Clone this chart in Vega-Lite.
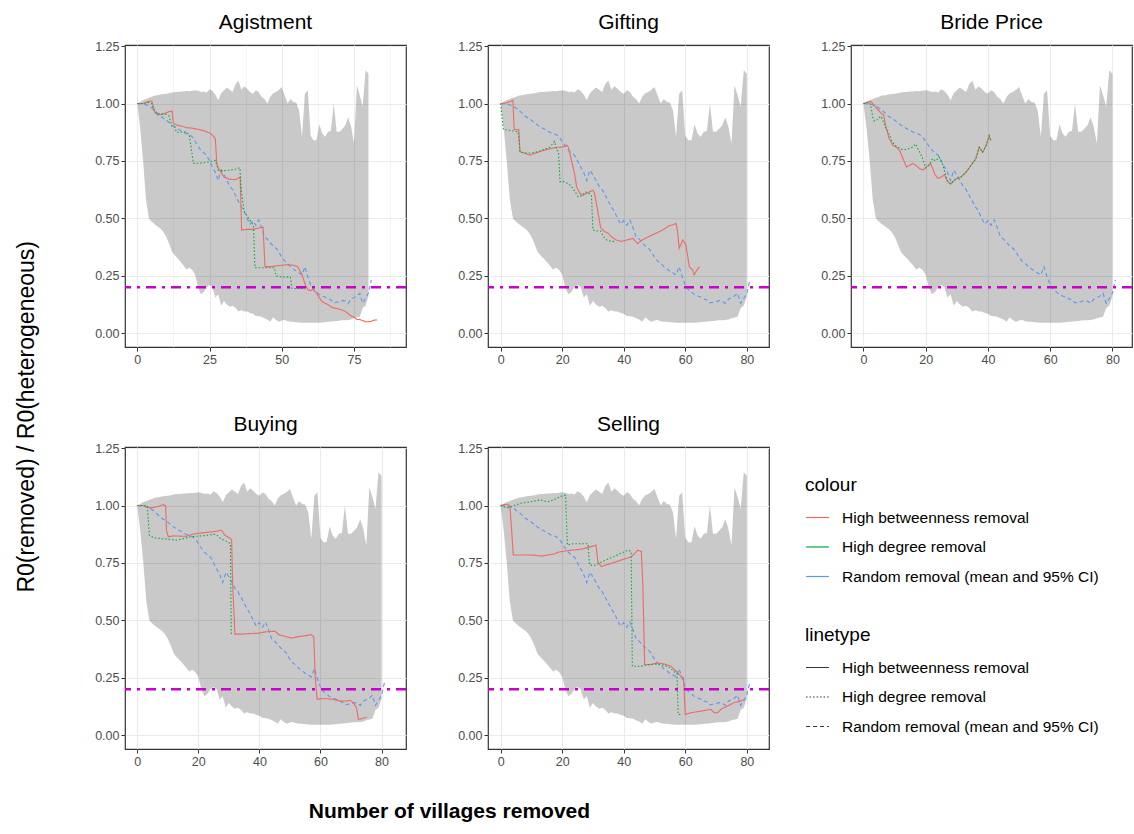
{
"$schema": "https://vega.github.io/schema/vega-lite/v6.json",
"background": "white",
"padding": {"left": 16, "top": 11, "right": 3, "bottom": 5},
"config": {
  "font": "Liberation Sans",
  "view": {"stroke": "#333333", "strokeWidth": 1.2},
  "axis": {"domain": false, "tickColor": "#333333", "tickSize": 4, "labelColor": "#4D4D4D", "labelFontSize": 12.5, "labelPadding": 2, "gridColor": "#EBEBEB", "title": null},
  "title": {"fontSize": 21, "fontWeight": "normal", "color": "black", "anchor": "middle", "frame": "group", "offset": 7},
  "legend": {"titleFontSize": 19, "titleFontWeight": "normal", "titleColor": "black", "labelFontSize": 15.5, "labelColor": "black", "labelLimit": 0, "symbolSize": 520, "symbolStrokeWidth": 1.2, "rowPadding": 8.5, "titlePadding": 10, "labelOffset": 12}
},
"title": {"text": "R0(removed) / R0(heterogeneous)", "orient": "left", "anchor": "middle", "frame": "bounds", "fontSize": 23, "offset": 55},
"datasets": {
  "ribbon": [
    {"x":0,"lower":1.0,"upper":1.0},{"x":1,"lower":0.89,"upper":1.008},{"x":2,"lower":0.75,"upper":1.015},{"x":3,"lower":0.58,"upper":1.02},{"x":4,"lower":0.5,"upper":1.025},{"x":5,"lower":0.485,"upper":1.03},{"x":6,"lower":0.475,"upper":1.035},{"x":7,"lower":0.465,"upper":1.036},{"x":8,"lower":0.455,"upper":1.04},{"x":9,"lower":0.442,"upper":1.042},
    {"x":10,"lower":0.42,"upper":1.043},{"x":11,"lower":0.39,"upper":1.045},{"x":12,"lower":0.355,"upper":1.048},{"x":13,"lower":0.338,"upper":1.05},{"x":14,"lower":0.325,"upper":1.05},{"x":15,"lower":0.31,"upper":1.052},{"x":16,"lower":0.295,"upper":1.053},{"x":17,"lower":0.278,"upper":1.055},{"x":18,"lower":0.285,"upper":1.054},{"x":19,"lower":0.275,"upper":1.056},
    {"x":20,"lower":0.255,"upper":1.058},{"x":21,"lower":0.2,"upper":1.056},{"x":22,"lower":0.17,"upper":1.05},{"x":23,"lower":0.18,"upper":1.052},{"x":24,"lower":0.2,"upper":1.048},{"x":25,"lower":0.21,"upper":1.062},{"x":26,"lower":0.2,"upper":1.055},{"x":27,"lower":0.155,"upper":1.04},{"x":28,"lower":0.17,"upper":1.014},{"x":29,"lower":0.12,"upper":1.045},
    {"x":30,"lower":0.14,"upper":1.058},{"x":31,"lower":0.125,"upper":1.07},{"x":32,"lower":0.115,"upper":1.06},{"x":33,"lower":0.12,"upper":1.05},{"x":34,"lower":0.11,"upper":1.085},{"x":35,"lower":0.095,"upper":1.1},{"x":36,"lower":0.1,"upper":1.06},{"x":37,"lower":0.095,"upper":1.075},{"x":38,"lower":0.095,"upper":1.065},{"x":39,"lower":0.088,"upper":1.05},
    {"x":40,"lower":0.085,"upper":1.043},{"x":41,"lower":0.075,"upper":1.058},{"x":42,"lower":0.074,"upper":1.05},{"x":43,"lower":0.072,"upper":1.03},{"x":44,"lower":0.065,"upper":1.02},{"x":45,"lower":0.06,"upper":1.0},{"x":46,"lower":0.05,"upper":1.03},{"x":47,"lower":0.07,"upper":1.045},{"x":48,"lower":0.058,"upper":1.05},{"x":49,"lower":0.05,"upper":1.06},
    {"x":50,"lower":0.055,"upper":1.072},{"x":51,"lower":0.058,"upper":1.036},{"x":52,"lower":0.052,"upper":1.0},{"x":53,"lower":0.05,"upper":1.02},{"x":54,"lower":0.05,"upper":1.007},{"x":55,"lower":0.048,"upper":1.005},{"x":56,"lower":0.047,"upper":0.97},{"x":57,"lower":0.046,"upper":0.855},{"x":58,"lower":0.046,"upper":1.043},{"x":59,"lower":0.046,"upper":1.058},
    {"x":60,"lower":0.046,"upper":0.86},{"x":61,"lower":0.046,"upper":0.84},{"x":62,"lower":0.046,"upper":0.84},{"x":63,"lower":0.046,"upper":0.91},{"x":64,"lower":0.047,"upper":0.87},{"x":65,"lower":0.048,"upper":0.855},{"x":66,"lower":0.05,"upper":0.877},{"x":67,"lower":0.05,"upper":0.88},{"x":68,"lower":0.052,"upper":1.0},{"x":69,"lower":0.053,"upper":0.877},
    {"x":70,"lower":0.055,"upper":0.877},{"x":71,"lower":0.056,"upper":0.89},{"x":72,"lower":0.057,"upper":0.906},{"x":73,"lower":0.058,"upper":0.94},{"x":74,"lower":0.06,"upper":0.9},{"x":75,"lower":0.065,"upper":0.826},{"x":76,"lower":0.068,"upper":1.08},{"x":77,"lower":0.072,"upper":1.036},{"x":78,"lower":0.11,"upper":0.986},{"x":79,"lower":0.12,"upper":1.145},
    {"x":80,"lower":0.16,"upper":1.13}
  ],
  "mean": [
    {"x":0,"mean":1.0},{"x":2,"mean":0.998},{"x":4,"mean":0.99},{"x":6,"mean":0.97},{"x":8,"mean":0.945},{"x":10,"mean":0.928},{"x":12,"mean":0.906},{"x":14,"mean":0.89},{"x":16,"mean":0.875},{"x":18,"mean":0.865},{"x":19,"mean":0.855},
    {"x":20,"mean":0.835},{"x":21,"mean":0.815},{"x":22,"mean":0.797},{"x":23,"mean":0.785},{"x":24,"mean":0.775},{"x":25,"mean":0.75},{"x":26,"mean":0.725},{"x":27,"mean":0.7},{"x":28,"mean":0.665},{"x":29,"mean":0.71},
    {"x":30,"mean":0.69},{"x":31,"mean":0.665},{"x":32,"mean":0.64},{"x":33,"mean":0.625},{"x":34,"mean":0.6},{"x":35,"mean":0.575},{"x":36,"mean":0.55},{"x":37,"mean":0.53},{"x":38,"mean":0.5},{"x":39,"mean":0.475},
    {"x":40,"mean":0.49},{"x":41,"mean":0.47},{"x":42,"mean":0.493},{"x":43,"mean":0.46},{"x":44,"mean":0.42},{"x":45,"mean":0.41},{"x":46,"mean":0.395},{"x":47,"mean":0.38},{"x":48,"mean":0.37},{"x":49,"mean":0.355},
    {"x":50,"mean":0.33},{"x":51,"mean":0.315},{"x":52,"mean":0.305},{"x":53,"mean":0.29},{"x":54,"mean":0.28},{"x":55,"mean":0.27},{"x":56,"mean":0.262},{"x":57,"mean":0.254},{"x":58,"mean":0.29},{"x":59,"mean":0.246},
    {"x":60,"mean":0.21},{"x":61,"mean":0.19},{"x":62,"mean":0.18},{"x":63,"mean":0.168},{"x":64,"mean":0.162},{"x":65,"mean":0.158},{"x":66,"mean":0.15},{"x":67,"mean":0.145},{"x":68,"mean":0.132},{"x":69,"mean":0.135},
    {"x":70,"mean":0.138},{"x":71,"mean":0.142},{"x":72,"mean":0.14},{"x":73,"mean":0.13},{"x":74,"mean":0.148},{"x":75,"mean":0.155},{"x":76,"mean":0.162},{"x":77,"mean":0.174},{"x":78,"mean":0.13},{"x":79,"mean":0.15},
    {"x":80,"mean":0.175},{"x":81,"mean":0.232}
  ],
  "threshold": [{"ref": 0.2}],
  "methods": [
    {"network":"Agistment","method":"High betweenness removal","x":0,"r":1.0},{"network":"Agistment","method":"High betweenness removal","x":2,"r":1.0},{"network":"Agistment","method":"High betweenness removal","x":4,"r":1.01},{"network":"Agistment","method":"High betweenness removal","x":5,"r":1.01},{"network":"Agistment","method":"High betweenness removal","x":6,"r":0.965},{"network":"Agistment","method":"High betweenness removal","x":7,"r":0.95},{"network":"Agistment","method":"High betweenness removal","x":9,"r":0.955},{"network":"Agistment","method":"High betweenness removal","x":11,"r":0.965},{"network":"Agistment","method":"High betweenness removal","x":12,"r":0.968},{"network":"Agistment","method":"High betweenness removal","x":12.5,"r":0.913},{"network":"Agistment","method":"High betweenness removal","x":14,"r":0.905},{"network":"Agistment","method":"High betweenness removal","x":16,"r":0.9},{"network":"Agistment","method":"High betweenness removal","x":17,"r":0.895},{"network":"Agistment","method":"High betweenness removal","x":19,"r":0.893},{"network":"Agistment","method":"High betweenness removal","x":21,"r":0.888},{"network":"Agistment","method":"High betweenness removal","x":23,"r":0.882},{"network":"Agistment","method":"High betweenness removal","x":25,"r":0.872},{"network":"Agistment","method":"High betweenness removal","x":26,"r":0.862},{"network":"Agistment","method":"High betweenness removal","x":27,"r":0.848},{"network":"Agistment","method":"High betweenness removal","x":27.5,"r":0.74},{"network":"Agistment","method":"High betweenness removal","x":28,"r":0.72},{"network":"Agistment","method":"High betweenness removal","x":29,"r":0.7},{"network":"Agistment","method":"High betweenness removal","x":30,"r":0.68},{"network":"Agistment","method":"High betweenness removal","x":31,"r":0.675},{"network":"Agistment","method":"High betweenness removal","x":32,"r":0.67},{"network":"Agistment","method":"High betweenness removal","x":34,"r":0.668},{"network":"Agistment","method":"High betweenness removal","x":35,"r":0.675},{"network":"Agistment","method":"High betweenness removal","x":35.6,"r":0.68},{"network":"Agistment","method":"High betweenness removal","x":36.1,"r":0.449},{"network":"Agistment","method":"High betweenness removal","x":38,"r":0.452},{"network":"Agistment","method":"High betweenness removal","x":40,"r":0.452},{"network":"Agistment","method":"High betweenness removal","x":42,"r":0.458},{"network":"Agistment","method":"High betweenness removal","x":43.5,"r":0.462},{"network":"Agistment","method":"High betweenness removal","x":44.2,"r":0.29},{"network":"Agistment","method":"High betweenness removal","x":46,"r":0.29},{"network":"Agistment","method":"High betweenness removal","x":48,"r":0.293},{"network":"Agistment","method":"High betweenness removal","x":50,"r":0.296},{"network":"Agistment","method":"High betweenness removal","x":52,"r":0.298},{"network":"Agistment","method":"High betweenness removal","x":54,"r":0.296},{"network":"Agistment","method":"High betweenness removal","x":55.5,"r":0.29},{"network":"Agistment","method":"High betweenness removal","x":57,"r":0.255},{"network":"Agistment","method":"High betweenness removal","x":58,"r":0.215},{"network":"Agistment","method":"High betweenness removal","x":59,"r":0.19},{"network":"Agistment","method":"High betweenness removal","x":60,"r":0.185},{"network":"Agistment","method":"High betweenness removal","x":61,"r":0.19},{"network":"Agistment","method":"High betweenness removal","x":62,"r":0.175},{"network":"Agistment","method":"High betweenness removal","x":63,"r":0.155},{"network":"Agistment","method":"High betweenness removal","x":64,"r":0.137},{"network":"Agistment","method":"High betweenness removal","x":65,"r":0.13},{"network":"Agistment","method":"High betweenness removal","x":66,"r":0.125},{"network":"Agistment","method":"High betweenness removal","x":67,"r":0.115},{"network":"Agistment","method":"High betweenness removal","x":68,"r":0.11},{"network":"Agistment","method":"High betweenness removal","x":70,"r":0.105},{"network":"Agistment","method":"High betweenness removal","x":71,"r":0.1},{"network":"Agistment","method":"High betweenness removal","x":72,"r":0.095},{"network":"Agistment","method":"High betweenness removal","x":73,"r":0.085},{"network":"Agistment","method":"High betweenness removal","x":74,"r":0.075},{"network":"Agistment","method":"High betweenness removal","x":75,"r":0.07},{"network":"Agistment","method":"High betweenness removal","x":76,"r":0.06},{"network":"Agistment","method":"High betweenness removal","x":77,"r":0.06},{"network":"Agistment","method":"High betweenness removal","x":78,"r":0.055},{"network":"Agistment","method":"High betweenness removal","x":79,"r":0.05},{"network":"Agistment","method":"High betweenness removal","x":80,"r":0.05},{"network":"Agistment","method":"High betweenness removal","x":81,"r":0.052},{"network":"Agistment","method":"High betweenness removal","x":82,"r":0.057},{"network":"Agistment","method":"High betweenness removal","x":83,"r":0.058},
    {"network":"Agistment","method":"High degree removal","x":0,"r":1.0},{"network":"Agistment","method":"High degree removal","x":2,"r":1.0},{"network":"Agistment","method":"High degree removal","x":4,"r":1.005},{"network":"Agistment","method":"High degree removal","x":5,"r":1.0},{"network":"Agistment","method":"High degree removal","x":6,"r":0.96},{"network":"Agistment","method":"High degree removal","x":8,"r":0.955},{"network":"Agistment","method":"High degree removal","x":10,"r":0.953},{"network":"Agistment","method":"High degree removal","x":11,"r":0.945},{"network":"Agistment","method":"High degree removal","x":12,"r":0.9},{"network":"Agistment","method":"High degree removal","x":13,"r":0.898},{"network":"Agistment","method":"High degree removal","x":13.5,"r":0.875},{"network":"Agistment","method":"High degree removal","x":15,"r":0.875},{"network":"Agistment","method":"High degree removal","x":17,"r":0.877},{"network":"Agistment","method":"High degree removal","x":18,"r":0.862},{"network":"Agistment","method":"High degree removal","x":19.4,"r":0.74},{"network":"Agistment","method":"High degree removal","x":21,"r":0.74},{"network":"Agistment","method":"High degree removal","x":23,"r":0.742},{"network":"Agistment","method":"High degree removal","x":25,"r":0.746},{"network":"Agistment","method":"High degree removal","x":27,"r":0.752},{"network":"Agistment","method":"High degree removal","x":28,"r":0.71},{"network":"Agistment","method":"High degree removal","x":30,"r":0.708},{"network":"Agistment","method":"High degree removal","x":32,"r":0.71},{"network":"Agistment","method":"High degree removal","x":34,"r":0.715},{"network":"Agistment","method":"High degree removal","x":35.5,"r":0.72},{"network":"Agistment","method":"High degree removal","x":36,"r":0.62},{"network":"Agistment","method":"High degree removal","x":37,"r":0.53},{"network":"Agistment","method":"High degree removal","x":38.5,"r":0.5},{"network":"Agistment","method":"High degree removal","x":40.2,"r":0.47},{"network":"Agistment","method":"High degree removal","x":40.7,"r":0.285},{"network":"Agistment","method":"High degree removal","x":43,"r":0.285},{"network":"Agistment","method":"High degree removal","x":45,"r":0.285},{"network":"Agistment","method":"High degree removal","x":47.5,"r":0.285},{"network":"Agistment","method":"High degree removal","x":48,"r":0.25},{"network":"Agistment","method":"High degree removal","x":50,"r":0.245},{"network":"Agistment","method":"High degree removal","x":53,"r":0.244},{"network":"Agistment","method":"High degree removal","x":53.5,"r":0.195},{"network":"Agistment","method":"High degree removal","x":55,"r":0.195},{"network":"Agistment","method":"High degree removal","x":57,"r":0.195},{"network":"Agistment","method":"High degree removal","x":58,"r":0.19},
    {"network":"Gifting","method":"High betweenness removal","x":0,"r":1.0},{"network":"Gifting","method":"High betweenness removal","x":2,"r":1.003},{"network":"Gifting","method":"High betweenness removal","x":4,"r":1.014},{"network":"Gifting","method":"High betweenness removal","x":4.4,"r":0.887},{"network":"Gifting","method":"High betweenness removal","x":5.9,"r":0.887},{"network":"Gifting","method":"High betweenness removal","x":6.3,"r":0.79},{"network":"Gifting","method":"High betweenness removal","x":8,"r":0.783},{"network":"Gifting","method":"High betweenness removal","x":9.5,"r":0.775},{"network":"Gifting","method":"High betweenness removal","x":11,"r":0.783},{"network":"Gifting","method":"High betweenness removal","x":13,"r":0.792},{"network":"Gifting","method":"High betweenness removal","x":15,"r":0.8},{"network":"Gifting","method":"High betweenness removal","x":17,"r":0.806},{"network":"Gifting","method":"High betweenness removal","x":19,"r":0.81},{"network":"Gifting","method":"High betweenness removal","x":20.5,"r":0.812},{"network":"Gifting","method":"High betweenness removal","x":21.5,"r":0.82},{"network":"Gifting","method":"High betweenness removal","x":22,"r":0.81},{"network":"Gifting","method":"High betweenness removal","x":23,"r":0.754},{"network":"Gifting","method":"High betweenness removal","x":24,"r":0.696},{"network":"Gifting","method":"High betweenness removal","x":24.7,"r":0.638},{"network":"Gifting","method":"High betweenness removal","x":25.7,"r":0.61},{"network":"Gifting","method":"High betweenness removal","x":26.8,"r":0.6},{"network":"Gifting","method":"High betweenness removal","x":28,"r":0.61},{"network":"Gifting","method":"High betweenness removal","x":29,"r":0.616},{"network":"Gifting","method":"High betweenness removal","x":30,"r":0.623},{"network":"Gifting","method":"High betweenness removal","x":30.5,"r":0.61},{"network":"Gifting","method":"High betweenness removal","x":31.5,"r":0.536},{"network":"Gifting","method":"High betweenness removal","x":32.5,"r":0.46},{"network":"Gifting","method":"High betweenness removal","x":33.8,"r":0.442},{"network":"Gifting","method":"High betweenness removal","x":35,"r":0.435},{"network":"Gifting","method":"High betweenness removal","x":36,"r":0.42},{"network":"Gifting","method":"High betweenness removal","x":37.6,"r":0.406},{"network":"Gifting","method":"High betweenness removal","x":39.2,"r":0.4},{"network":"Gifting","method":"High betweenness removal","x":41,"r":0.406},{"network":"Gifting","method":"High betweenness removal","x":43,"r":0.413},{"network":"Gifting","method":"High betweenness removal","x":44.5,"r":0.39},{"network":"Gifting","method":"High betweenness removal","x":46,"r":0.406},{"network":"Gifting","method":"High betweenness removal","x":48,"r":0.42},{"network":"Gifting","method":"High betweenness removal","x":50.5,"r":0.435},{"network":"Gifting","method":"High betweenness removal","x":52.7,"r":0.45},{"network":"Gifting","method":"High betweenness removal","x":54.8,"r":0.468},{"network":"Gifting","method":"High betweenness removal","x":56,"r":0.472},{"network":"Gifting","method":"High betweenness removal","x":57,"r":0.478},{"network":"Gifting","method":"High betweenness removal","x":57.5,"r":0.442},{"network":"Gifting","method":"High betweenness removal","x":58,"r":0.37},{"network":"Gifting","method":"High betweenness removal","x":59.2,"r":0.406},{"network":"Gifting","method":"High betweenness removal","x":60.2,"r":0.384},{"network":"Gifting","method":"High betweenness removal","x":60.8,"r":0.333},{"network":"Gifting","method":"High betweenness removal","x":61.3,"r":0.29},{"network":"Gifting","method":"High betweenness removal","x":62.4,"r":0.275},{"network":"Gifting","method":"High betweenness removal","x":62.9,"r":0.254},{"network":"Gifting","method":"High betweenness removal","x":63.5,"r":0.27},{"network":"Gifting","method":"High betweenness removal","x":64.6,"r":0.29},
    {"network":"Gifting","method":"High degree removal","x":0,"r":1.0},{"network":"Gifting","method":"High degree removal","x":0.4,"r":0.95},{"network":"Gifting","method":"High degree removal","x":0.9,"r":0.887},{"network":"Gifting","method":"High degree removal","x":2.5,"r":0.884},{"network":"Gifting","method":"High degree removal","x":4.6,"r":0.88},{"network":"Gifting","method":"High degree removal","x":5.7,"r":0.877},{"network":"Gifting","method":"High degree removal","x":6.3,"r":0.79},{"network":"Gifting","method":"High degree removal","x":8,"r":0.785},{"network":"Gifting","method":"High degree removal","x":10,"r":0.785},{"network":"Gifting","method":"High degree removal","x":12,"r":0.79},{"network":"Gifting","method":"High degree removal","x":14,"r":0.8},{"network":"Gifting","method":"High degree removal","x":16,"r":0.81},{"network":"Gifting","method":"High degree removal","x":17.5,"r":0.835},{"network":"Gifting","method":"High degree removal","x":18.2,"r":0.8},{"network":"Gifting","method":"High degree removal","x":18.8,"r":0.79},{"network":"Gifting","method":"High degree removal","x":19.3,"r":0.66},{"network":"Gifting","method":"High degree removal","x":20.5,"r":0.66},{"network":"Gifting","method":"High degree removal","x":22,"r":0.652},{"network":"Gifting","method":"High degree removal","x":23,"r":0.64},{"network":"Gifting","method":"High degree removal","x":24,"r":0.62},{"network":"Gifting","method":"High degree removal","x":25.2,"r":0.594},{"network":"Gifting","method":"High degree removal","x":26.5,"r":0.6},{"network":"Gifting","method":"High degree removal","x":27.5,"r":0.616},{"network":"Gifting","method":"High degree removal","x":28.5,"r":0.61},{"network":"Gifting","method":"High degree removal","x":29.5,"r":0.6},{"network":"Gifting","method":"High degree removal","x":30,"r":0.45},{"network":"Gifting","method":"High degree removal","x":31,"r":0.445},{"network":"Gifting","method":"High degree removal","x":32.5,"r":0.445},{"network":"Gifting","method":"High degree removal","x":33.5,"r":0.42},{"network":"Gifting","method":"High degree removal","x":34.5,"r":0.406},{"network":"Gifting","method":"High degree removal","x":36,"r":0.4},{"network":"Gifting","method":"High degree removal","x":37.5,"r":0.4},
    {"network":"Bride Price","method":"High betweenness removal","x":0,"r":1.0},{"network":"Bride Price","method":"High betweenness removal","x":1,"r":1.005},{"network":"Bride Price","method":"High betweenness removal","x":2.3,"r":1.01},{"network":"Bride Price","method":"High betweenness removal","x":3.9,"r":0.986},{"network":"Bride Price","method":"High betweenness removal","x":5.5,"r":0.96},{"network":"Bride Price","method":"High betweenness removal","x":6.5,"r":0.95},{"network":"Bride Price","method":"High betweenness removal","x":7.2,"r":0.9},{"network":"Bride Price","method":"High betweenness removal","x":8.2,"r":0.85},{"network":"Bride Price","method":"High betweenness removal","x":9.5,"r":0.818},{"network":"Bride Price","method":"High betweenness removal","x":10.5,"r":0.811},{"network":"Bride Price","method":"High betweenness removal","x":11.6,"r":0.797},{"network":"Bride Price","method":"High betweenness removal","x":12.7,"r":0.76},{"network":"Bride Price","method":"High betweenness removal","x":13.8,"r":0.724},{"network":"Bride Price","method":"High betweenness removal","x":14.8,"r":0.731},{"network":"Bride Price","method":"High betweenness removal","x":15.9,"r":0.739},{"network":"Bride Price","method":"High betweenness removal","x":17,"r":0.73},{"network":"Bride Price","method":"High betweenness removal","x":18,"r":0.717},{"network":"Bride Price","method":"High betweenness removal","x":19.1,"r":0.71},{"network":"Bride Price","method":"High betweenness removal","x":20.2,"r":0.724},{"network":"Bride Price","method":"High betweenness removal","x":21.5,"r":0.74},{"network":"Bride Price","method":"High betweenness removal","x":22.2,"r":0.72},{"network":"Bride Price","method":"High betweenness removal","x":23,"r":0.69},{"network":"Bride Price","method":"High betweenness removal","x":24,"r":0.674},{"network":"Bride Price","method":"High betweenness removal","x":25.1,"r":0.681},{"network":"Bride Price","method":"High betweenness removal","x":26,"r":0.69},{"network":"Bride Price","method":"High betweenness removal","x":27,"r":0.66},{"network":"Bride Price","method":"High betweenness removal","x":28,"r":0.65},{"network":"Bride Price","method":"High betweenness removal","x":29.7,"r":0.672},{"network":"Bride Price","method":"High betweenness removal","x":31.3,"r":0.68},{"network":"Bride Price","method":"High betweenness removal","x":32.9,"r":0.7},{"network":"Bride Price","method":"High betweenness removal","x":34.5,"r":0.73},{"network":"Bride Price","method":"High betweenness removal","x":36.1,"r":0.759},{"network":"Bride Price","method":"High betweenness removal","x":37.2,"r":0.81},{"network":"Bride Price","method":"High betweenness removal","x":38.3,"r":0.788},{"network":"Bride Price","method":"High betweenness removal","x":39.4,"r":0.816},{"network":"Bride Price","method":"High betweenness removal","x":40.4,"r":0.86},{"network":"Bride Price","method":"High betweenness removal","x":41,"r":0.838},
    {"network":"Bride Price","method":"High degree removal","x":0,"r":1.0},{"network":"Bride Price","method":"High degree removal","x":2,"r":1.005},{"network":"Bride Price","method":"High degree removal","x":2.5,"r":0.98},{"network":"Bride Price","method":"High degree removal","x":3,"r":0.94},{"network":"Bride Price","method":"High degree removal","x":3.5,"r":0.924},{"network":"Bride Price","method":"High degree removal","x":4.5,"r":0.93},{"network":"Bride Price","method":"High degree removal","x":5.5,"r":0.945},{"network":"Bride Price","method":"High degree removal","x":6,"r":0.935},{"network":"Bride Price","method":"High degree removal","x":7,"r":0.9},{"network":"Bride Price","method":"High degree removal","x":8,"r":0.875},{"network":"Bride Price","method":"High degree removal","x":9,"r":0.84},{"network":"Bride Price","method":"High degree removal","x":10,"r":0.82},{"network":"Bride Price","method":"High degree removal","x":11,"r":0.81},{"network":"Bride Price","method":"High degree removal","x":12.5,"r":0.8},{"network":"Bride Price","method":"High degree removal","x":14,"r":0.8},{"network":"Bride Price","method":"High degree removal","x":15.5,"r":0.808},{"network":"Bride Price","method":"High degree removal","x":16.8,"r":0.824},{"network":"Bride Price","method":"High degree removal","x":17.8,"r":0.795},{"network":"Bride Price","method":"High degree removal","x":18.9,"r":0.766},{"network":"Bride Price","method":"High degree removal","x":20,"r":0.72},{"network":"Bride Price","method":"High degree removal","x":21.1,"r":0.73},{"network":"Bride Price","method":"High degree removal","x":22.2,"r":0.76},{"network":"Bride Price","method":"High degree removal","x":23.2,"r":0.75},{"network":"Bride Price","method":"High degree removal","x":24.3,"r":0.766},{"network":"Bride Price","method":"High degree removal","x":25.4,"r":0.737},{"network":"Bride Price","method":"High degree removal","x":26,"r":0.708},{"network":"Bride Price","method":"High degree removal","x":27,"r":0.665},{"network":"Bride Price","method":"High degree removal","x":28,"r":0.65},{"network":"Bride Price","method":"High degree removal","x":29.7,"r":0.672},{"network":"Bride Price","method":"High degree removal","x":31.3,"r":0.68},{"network":"Bride Price","method":"High degree removal","x":32.9,"r":0.7},{"network":"Bride Price","method":"High degree removal","x":34.5,"r":0.73},{"network":"Bride Price","method":"High degree removal","x":36.1,"r":0.759},{"network":"Bride Price","method":"High degree removal","x":37.2,"r":0.81},{"network":"Bride Price","method":"High degree removal","x":38.3,"r":0.788},{"network":"Bride Price","method":"High degree removal","x":39.4,"r":0.816},{"network":"Bride Price","method":"High degree removal","x":40.4,"r":0.86},{"network":"Bride Price","method":"High degree removal","x":41,"r":0.838},
    {"network":"Buying","method":"High betweenness removal","x":0,"r":1.0},{"network":"Buying","method":"High betweenness removal","x":2,"r":1.0},{"network":"Buying","method":"High betweenness removal","x":4,"r":0.99},{"network":"Buying","method":"High betweenness removal","x":5,"r":0.99},{"network":"Buying","method":"High betweenness removal","x":7,"r":0.997},{"network":"Buying","method":"High betweenness removal","x":8.5,"r":1.004},{"network":"Buying","method":"High betweenness removal","x":9.3,"r":1.0},{"network":"Buying","method":"High betweenness removal","x":9.6,"r":0.89},{"network":"Buying","method":"High betweenness removal","x":10.2,"r":0.864},{"network":"Buying","method":"High betweenness removal","x":12,"r":0.868},{"network":"Buying","method":"High betweenness removal","x":14,"r":0.867},{"network":"Buying","method":"High betweenness removal","x":16,"r":0.866},{"network":"Buying","method":"High betweenness removal","x":18,"r":0.875},{"network":"Buying","method":"High betweenness removal","x":20,"r":0.879},{"network":"Buying","method":"High betweenness removal","x":22,"r":0.882},{"network":"Buying","method":"High betweenness removal","x":24,"r":0.885},{"network":"Buying","method":"High betweenness removal","x":26,"r":0.888},{"network":"Buying","method":"High betweenness removal","x":27.6,"r":0.893},{"network":"Buying","method":"High betweenness removal","x":28.7,"r":0.87},{"network":"Buying","method":"High betweenness removal","x":29.5,"r":0.865},{"network":"Buying","method":"High betweenness removal","x":30.9,"r":0.853},{"network":"Buying","method":"High betweenness removal","x":31.3,"r":0.64},{"network":"Buying","method":"High betweenness removal","x":32,"r":0.44},{"network":"Buying","method":"High betweenness removal","x":34,"r":0.44},{"network":"Buying","method":"High betweenness removal","x":36,"r":0.442},{"network":"Buying","method":"High betweenness removal","x":38,"r":0.443},{"network":"Buying","method":"High betweenness removal","x":40,"r":0.445},{"network":"Buying","method":"High betweenness removal","x":42,"r":0.45},{"network":"Buying","method":"High betweenness removal","x":44,"r":0.452},{"network":"Buying","method":"High betweenness removal","x":45.2,"r":0.452},{"network":"Buying","method":"High betweenness removal","x":46.3,"r":0.438},{"network":"Buying","method":"High betweenness removal","x":48.5,"r":0.43},{"network":"Buying","method":"High betweenness removal","x":50.7,"r":0.423},{"network":"Buying","method":"High betweenness removal","x":52.9,"r":0.43},{"network":"Buying","method":"High betweenness removal","x":55,"r":0.433},{"network":"Buying","method":"High betweenness removal","x":56.7,"r":0.438},{"network":"Buying","method":"High betweenness removal","x":57.8,"r":0.43},{"network":"Buying","method":"High betweenness removal","x":58.3,"r":0.25},{"network":"Buying","method":"High betweenness removal","x":58.9,"r":0.156},{"network":"Buying","method":"High betweenness removal","x":60,"r":0.159},{"network":"Buying","method":"High betweenness removal","x":62,"r":0.159},{"network":"Buying","method":"High betweenness removal","x":64.2,"r":0.156},{"network":"Buying","method":"High betweenness removal","x":66.4,"r":0.149},{"network":"Buying","method":"High betweenness removal","x":68.6,"r":0.149},{"network":"Buying","method":"High betweenness removal","x":69.7,"r":0.152},{"network":"Buying","method":"High betweenness removal","x":70.7,"r":0.142},{"network":"Buying","method":"High betweenness removal","x":71.8,"r":0.12},{"network":"Buying","method":"High betweenness removal","x":72.4,"r":0.069},{"network":"Buying","method":"High betweenness removal","x":73.5,"r":0.072},{"network":"Buying","method":"High betweenness removal","x":74.6,"r":0.077},{"network":"Buying","method":"High betweenness removal","x":75.1,"r":0.078},
    {"network":"Buying","method":"High degree removal","x":0,"r":1.0},{"network":"Buying","method":"High degree removal","x":2,"r":1.0},{"network":"Buying","method":"High degree removal","x":3.3,"r":0.998},{"network":"Buying","method":"High degree removal","x":4,"r":0.87},{"network":"Buying","method":"High degree removal","x":5.4,"r":0.86},{"network":"Buying","method":"High degree removal","x":8.7,"r":0.855},{"network":"Buying","method":"High degree removal","x":13,"r":0.849},{"network":"Buying","method":"High degree removal","x":17.5,"r":0.864},{"network":"Buying","method":"High degree removal","x":21.9,"r":0.869},{"network":"Buying","method":"High degree removal","x":25.2,"r":0.875},{"network":"Buying","method":"High degree removal","x":26.3,"r":0.869},{"network":"Buying","method":"High degree removal","x":27.4,"r":0.855},{"network":"Buying","method":"High degree removal","x":28.5,"r":0.849},{"network":"Buying","method":"High degree removal","x":29.6,"r":0.842},{"network":"Buying","method":"High degree removal","x":30.5,"r":0.835},{"network":"Buying","method":"High degree removal","x":30.8,"r":0.44},{"network":"Buying","method":"High degree removal","x":31.2,"r":0.435},
    {"network":"Selling","method":"High betweenness removal","x":0,"r":1.0},{"network":"Selling","method":"High betweenness removal","x":1.9,"r":1.006},{"network":"Selling","method":"High betweenness removal","x":3,"r":1.0},{"network":"Selling","method":"High betweenness removal","x":3.5,"r":0.91},{"network":"Selling","method":"High betweenness removal","x":4.1,"r":0.785},{"network":"Selling","method":"High betweenness removal","x":6.8,"r":0.785},{"network":"Selling","method":"High betweenness removal","x":10,"r":0.785},{"network":"Selling","method":"High betweenness removal","x":13.3,"r":0.78},{"network":"Selling","method":"High betweenness removal","x":17.6,"r":0.79},{"network":"Selling","method":"High betweenness removal","x":18.7,"r":0.797},{"network":"Selling","method":"High betweenness removal","x":21.9,"r":0.804},{"network":"Selling","method":"High betweenness removal","x":26.2,"r":0.81},{"network":"Selling","method":"High betweenness removal","x":28.4,"r":0.818},{"network":"Selling","method":"High betweenness removal","x":30.5,"r":0.825},{"network":"Selling","method":"High betweenness removal","x":31,"r":0.828},{"network":"Selling","method":"High betweenness removal","x":31.6,"r":0.755},{"network":"Selling","method":"High betweenness removal","x":32.7,"r":0.734},{"network":"Selling","method":"High betweenness removal","x":33.8,"r":0.74},{"network":"Selling","method":"High betweenness removal","x":35.9,"r":0.748},{"network":"Selling","method":"High betweenness removal","x":39.2,"r":0.763},{"network":"Selling","method":"High betweenness removal","x":42.5,"r":0.777},{"network":"Selling","method":"High betweenness removal","x":44.6,"r":0.806},{"network":"Selling","method":"High betweenness removal","x":45.7,"r":0.8},{"network":"Selling","method":"High betweenness removal","x":46.2,"r":0.66},{"network":"Selling","method":"High betweenness removal","x":46.8,"r":0.308},{"network":"Selling","method":"High betweenness removal","x":48.9,"r":0.308},{"network":"Selling","method":"High betweenness removal","x":51,"r":0.315},{"network":"Selling","method":"High betweenness removal","x":53.2,"r":0.31},{"network":"Selling","method":"High betweenness removal","x":55.4,"r":0.3},{"network":"Selling","method":"High betweenness removal","x":57.5,"r":0.272},{"network":"Selling","method":"High betweenness removal","x":58.6,"r":0.257},{"network":"Selling","method":"High betweenness removal","x":59.4,"r":0.25},{"network":"Selling","method":"High betweenness removal","x":60,"r":0.09},{"network":"Selling","method":"High betweenness removal","x":61.8,"r":0.098},{"network":"Selling","method":"High betweenness removal","x":65.1,"r":0.105},{"network":"Selling","method":"High betweenness removal","x":68.3,"r":0.113},{"network":"Selling","method":"High betweenness removal","x":69.4,"r":0.098},{"network":"Selling","method":"High betweenness removal","x":70.5,"r":0.098},{"network":"Selling","method":"High betweenness removal","x":71.6,"r":0.113},{"network":"Selling","method":"High betweenness removal","x":73.7,"r":0.127},{"network":"Selling","method":"High betweenness removal","x":75.9,"r":0.142},{"network":"Selling","method":"High betweenness removal","x":78.1,"r":0.149},{"network":"Selling","method":"High betweenness removal","x":79.1,"r":0.156},
    {"network":"Selling","method":"High degree removal","x":0,"r":1.0},{"network":"Selling","method":"High degree removal","x":2.2,"r":0.99},{"network":"Selling","method":"High degree removal","x":4.3,"r":1.0},{"network":"Selling","method":"High degree removal","x":6.5,"r":1.01},{"network":"Selling","method":"High degree removal","x":9.7,"r":1.016},{"network":"Selling","method":"High degree removal","x":13,"r":1.025},{"network":"Selling","method":"High degree removal","x":15.2,"r":1.016},{"network":"Selling","method":"High degree removal","x":17.3,"r":1.025},{"network":"Selling","method":"High degree removal","x":19.5,"r":1.04},{"network":"Selling","method":"High degree removal","x":21.1,"r":1.045},{"network":"Selling","method":"High degree removal","x":21.7,"r":0.828},{"network":"Selling","method":"High degree removal","x":23.6,"r":0.834},{"network":"Selling","method":"High degree removal","x":26,"r":0.834},{"network":"Selling","method":"High degree removal","x":28.4,"r":0.834},{"network":"Selling","method":"High degree removal","x":28.9,"r":0.741},{"network":"Selling","method":"High degree removal","x":30.7,"r":0.74},{"network":"Selling","method":"High degree removal","x":31.8,"r":0.748},{"network":"Selling","method":"High degree removal","x":34,"r":0.762},{"network":"Selling","method":"High degree removal","x":36.8,"r":0.778},{"network":"Selling","method":"High degree removal","x":39,"r":0.792},{"network":"Selling","method":"High degree removal","x":41.5,"r":0.806},{"network":"Selling","method":"High degree removal","x":42.4,"r":0.8},{"network":"Selling","method":"High degree removal","x":42.8,"r":0.3},{"network":"Selling","method":"High degree removal","x":45.4,"r":0.3},{"network":"Selling","method":"High degree removal","x":47.5,"r":0.305},{"network":"Selling","method":"High degree removal","x":50,"r":0.31},{"network":"Selling","method":"High degree removal","x":53,"r":0.305},{"network":"Selling","method":"High degree removal","x":55,"r":0.295},{"network":"Selling","method":"High degree removal","x":56.5,"r":0.275},{"network":"Selling","method":"High degree removal","x":57.3,"r":0.27},{"network":"Selling","method":"High degree removal","x":57.7,"r":0.09},{"network":"Selling","method":"High degree removal","x":58.5,"r":0.09}
  ]
},
"vconcat": [
  {"hconcat": [
    {"title": "Agistment", "width": 281, "height": 302, "layer": [
      {"data": {"name": "ribbon"}, "mark": {"type": "area", "color": "black", "opacity": 0.21}, "encoding": {
        "x": {"field": "x", "type": "quantitative", "scale": {"domain": [-4.27, 93], "nice": false, "zero": false}, "axis": {"values": [0,12.5,25,37.5,50,62.5,75,87.5], "labelExpr": "datum.value % 25 == 0 ? format(datum.value, 'd') : ''", "gridWidth": {"condition": {"test": "datum.value % 25 == 0", "value": 1.1}, "value": 0.55}, "tickOpacity": {"condition": {"test": "datum.value % 25 == 0", "value": 1}, "value": 0}}},
        "y": {"field": "lower", "type": "quantitative", "scale": {"domain": [-0.06, 1.255], "nice": false, "zero": false}, "axis": {"values": [0,0.125,0.25,0.375,0.5,0.625,0.75,0.875,1,1.125,1.25], "labelExpr": "(datum.value*4) % 1 == 0 ? format(datum.value, '.2f') : ''", "gridWidth": {"condition": {"test": "(datum.value*4) % 1 == 0", "value": 1.1}, "value": 0.55}, "tickOpacity": {"condition": {"test": "(datum.value*4) % 1 == 0", "value": 1}, "value": 0}}},
        "y2": {"field": "upper"}}},
      {"data": {"name": "mean"}, "mark": {"type": "line", "strokeWidth": 1.1}, "encoding": {
        "x": {"field": "x", "type": "quantitative", "scale": {"domain": [-4.27, 93], "nice": false, "zero": false}},
        "y": {"field": "mean", "type": "quantitative", "scale": {"domain": [-0.06, 1.255], "nice": false, "zero": false}},
        "color": {"datum": "Random removal (mean and 95% CI)", "type": "nominal"},
        "strokeDash": {"datum": "Random removal (mean and 95% CI)", "type": "nominal"}}},
      {"data": {"name": "methods"}, "transform": [{"filter": "datum.network == 'Agistment'"}], "mark": {"type": "line", "strokeWidth": 1.1}, "encoding": {
        "x": {"field": "x", "type": "quantitative", "scale": {"domain": [-4.27, 93], "nice": false, "zero": false}},
        "y": {"field": "r", "type": "quantitative", "scale": {"domain": [-0.06, 1.255], "nice": false, "zero": false}},
        "color": {"field": "method", "type": "nominal", "scale": {"domain": ["High betweenness removal", "High degree removal", "Random removal (mean and 95% CI)"], "range": ["#EE6A62", "#00AE36", "#5C95F5"]}, "legend": {"title": "colour", "orient": "none", "legendX": 680, "legendY": 431}},
        "strokeDash": {"field": "method", "type": "nominal", "scale": {"range": [[1,0],[1.5,2],[4,3]]}, "legend": {"title": "linetype", "orient": "none", "legendX": 680, "legendY": 581, "symbolStrokeColor": "#333333", "encode": {"symbols": {"update": {"stroke": {"value": "#333333"}}}}}}}},
      {"data": {"name": "threshold"}, "mark": {"type": "rule", "color": "#CC00CC", "strokeWidth": 2.5, "strokeDash": [10,6,3,6]}, "encoding": {
        "y": {"field": "ref", "type": "quantitative", "scale": {"domain": [-0.06, 1.255], "nice": false, "zero": false}}}}
    ]},
    {"title": "Gifting", "width": 281, "height": 302, "layer": [
      {"data": {"name": "ribbon"}, "mark": {"type": "area", "color": "black", "opacity": 0.21}, "encoding": {
        "x": {"field": "x", "type": "quantitative", "scale": {"domain": [-4.1, 87.2], "nice": false, "zero": false}, "axis": {"values": [0,10,20,30,40,50,60,70,80], "labelExpr": "datum.value % 20 == 0 ? format(datum.value, 'd') : ''", "gridWidth": {"condition": {"test": "datum.value % 20 == 0", "value": 1.1}, "value": 0.55}, "tickOpacity": {"condition": {"test": "datum.value % 20 == 0", "value": 1}, "value": 0}}},
        "y": {"field": "lower", "type": "quantitative", "scale": {"domain": [-0.06, 1.255], "nice": false, "zero": false}, "axis": {"values": [0,0.125,0.25,0.375,0.5,0.625,0.75,0.875,1,1.125,1.25], "labelExpr": "(datum.value*4) % 1 == 0 ? format(datum.value, '.2f') : ''", "gridWidth": {"condition": {"test": "(datum.value*4) % 1 == 0", "value": 1.1}, "value": 0.55}, "tickOpacity": {"condition": {"test": "(datum.value*4) % 1 == 0", "value": 1}, "value": 0}}},
        "y2": {"field": "upper"}}},
      {"data": {"name": "mean"}, "mark": {"type": "line", "strokeWidth": 1.1}, "encoding": {
        "x": {"field": "x", "type": "quantitative", "scale": {"domain": [-4.1, 87.2], "nice": false, "zero": false}},
        "y": {"field": "mean", "type": "quantitative", "scale": {"domain": [-0.06, 1.255], "nice": false, "zero": false}},
        "color": {"datum": "Random removal (mean and 95% CI)", "type": "nominal"},
        "strokeDash": {"datum": "Random removal (mean and 95% CI)", "type": "nominal"}}},
      {"data": {"name": "methods"}, "transform": [{"filter": "datum.network == 'Gifting'"}], "mark": {"type": "line", "strokeWidth": 1.1}, "encoding": {
        "x": {"field": "x", "type": "quantitative", "scale": {"domain": [-4.1, 87.2], "nice": false, "zero": false}},
        "y": {"field": "r", "type": "quantitative", "scale": {"domain": [-0.06, 1.255], "nice": false, "zero": false}},
        "color": {"field": "method", "type": "nominal"},
        "strokeDash": {"field": "method", "type": "nominal"}}},
      {"data": {"name": "threshold"}, "mark": {"type": "rule", "color": "#CC00CC", "strokeWidth": 2.5, "strokeDash": [10,6,3,6]}, "encoding": {
        "y": {"field": "ref", "type": "quantitative", "scale": {"domain": [-0.06, 1.255], "nice": false, "zero": false}}}}
    ]},
    {"title": "Bride Price", "width": 281, "height": 302, "layer": [
      {"data": {"name": "ribbon"}, "mark": {"type": "area", "color": "black", "opacity": 0.21}, "encoding": {
        "x": {"field": "x", "type": "quantitative", "scale": {"domain": [-4, 86.3], "nice": false, "zero": false}, "axis": {"values": [0,10,20,30,40,50,60,70,80], "labelExpr": "datum.value % 20 == 0 ? format(datum.value, 'd') : ''", "gridWidth": {"condition": {"test": "datum.value % 20 == 0", "value": 1.1}, "value": 0.55}, "tickOpacity": {"condition": {"test": "datum.value % 20 == 0", "value": 1}, "value": 0}}},
        "y": {"field": "lower", "type": "quantitative", "scale": {"domain": [-0.06, 1.255], "nice": false, "zero": false}, "axis": {"values": [0,0.125,0.25,0.375,0.5,0.625,0.75,0.875,1,1.125,1.25], "labelExpr": "(datum.value*4) % 1 == 0 ? format(datum.value, '.2f') : ''", "gridWidth": {"condition": {"test": "(datum.value*4) % 1 == 0", "value": 1.1}, "value": 0.55}, "tickOpacity": {"condition": {"test": "(datum.value*4) % 1 == 0", "value": 1}, "value": 0}}},
        "y2": {"field": "upper"}}},
      {"data": {"name": "mean"}, "mark": {"type": "line", "strokeWidth": 1.1}, "encoding": {
        "x": {"field": "x", "type": "quantitative", "scale": {"domain": [-4, 86.3], "nice": false, "zero": false}},
        "y": {"field": "mean", "type": "quantitative", "scale": {"domain": [-0.06, 1.255], "nice": false, "zero": false}},
        "color": {"datum": "Random removal (mean and 95% CI)", "type": "nominal"},
        "strokeDash": {"datum": "Random removal (mean and 95% CI)", "type": "nominal"}}},
      {"data": {"name": "methods"}, "transform": [{"filter": "datum.network == 'Bride Price'"}], "mark": {"type": "line", "strokeWidth": 1.1}, "encoding": {
        "x": {"field": "x", "type": "quantitative", "scale": {"domain": [-4, 86.3], "nice": false, "zero": false}},
        "y": {"field": "r", "type": "quantitative", "scale": {"domain": [-0.06, 1.255], "nice": false, "zero": false}},
        "color": {"field": "method", "type": "nominal"},
        "strokeDash": {"field": "method", "type": "nominal"}}},
      {"data": {"name": "threshold"}, "mark": {"type": "rule", "color": "#CC00CC", "strokeWidth": 2.5, "strokeDash": [10,6,3,6]}, "encoding": {
        "y": {"field": "ref", "type": "quantitative", "scale": {"domain": [-0.06, 1.255], "nice": false, "zero": false}}}}
    ]}
  ], "spacing": 49},
  {"hconcat": [
    {"title": "Buying", "width": 281, "height": 302, "layer": [
      {"data": {"name": "ribbon"}, "mark": {"type": "area", "color": "black", "opacity": 0.21}, "encoding": {
        "x": {"field": "x", "type": "quantitative", "scale": {"domain": [-4, 88], "nice": false, "zero": false}, "axis": {"values": [0,10,20,30,40,50,60,70,80], "labelExpr": "datum.value % 20 == 0 ? format(datum.value, 'd') : ''", "gridWidth": {"condition": {"test": "datum.value % 20 == 0", "value": 1.1}, "value": 0.55}, "tickOpacity": {"condition": {"test": "datum.value % 20 == 0", "value": 1}, "value": 0}}},
        "y": {"field": "lower", "type": "quantitative", "scale": {"domain": [-0.06, 1.255], "nice": false, "zero": false}, "axis": {"values": [0,0.125,0.25,0.375,0.5,0.625,0.75,0.875,1,1.125,1.25], "labelExpr": "(datum.value*4) % 1 == 0 ? format(datum.value, '.2f') : ''", "gridWidth": {"condition": {"test": "(datum.value*4) % 1 == 0", "value": 1.1}, "value": 0.55}, "tickOpacity": {"condition": {"test": "(datum.value*4) % 1 == 0", "value": 1}, "value": 0}}},
        "y2": {"field": "upper"}}},
      {"data": {"name": "mean"}, "mark": {"type": "line", "strokeWidth": 1.1}, "encoding": {
        "x": {"field": "x", "type": "quantitative", "scale": {"domain": [-4, 88], "nice": false, "zero": false}},
        "y": {"field": "mean", "type": "quantitative", "scale": {"domain": [-0.06, 1.255], "nice": false, "zero": false}},
        "color": {"datum": "Random removal (mean and 95% CI)", "type": "nominal"},
        "strokeDash": {"datum": "Random removal (mean and 95% CI)", "type": "nominal"}}},
      {"data": {"name": "methods"}, "transform": [{"filter": "datum.network == 'Buying'"}], "mark": {"type": "line", "strokeWidth": 1.1}, "encoding": {
        "x": {"field": "x", "type": "quantitative", "scale": {"domain": [-4, 88], "nice": false, "zero": false}},
        "y": {"field": "r", "type": "quantitative", "scale": {"domain": [-0.06, 1.255], "nice": false, "zero": false}},
        "color": {"field": "method", "type": "nominal"},
        "strokeDash": {"field": "method", "type": "nominal"}}},
      {"data": {"name": "threshold"}, "mark": {"type": "rule", "color": "#CC00CC", "strokeWidth": 2.5, "strokeDash": [10,6,3,6]}, "encoding": {
        "y": {"field": "ref", "type": "quantitative", "scale": {"domain": [-0.06, 1.255], "nice": false, "zero": false}}}}
    ]},
    {"title": "Selling", "width": 281, "height": 302, "layer": [
      {"data": {"name": "ribbon"}, "mark": {"type": "area", "color": "black", "opacity": 0.21}, "encoding": {
        "x": {"field": "x", "type": "quantitative", "scale": {"domain": [-4.1, 87.2], "nice": false, "zero": false}, "axis": {"values": [0,10,20,30,40,50,60,70,80], "labelExpr": "datum.value % 20 == 0 ? format(datum.value, 'd') : ''", "gridWidth": {"condition": {"test": "datum.value % 20 == 0", "value": 1.1}, "value": 0.55}, "tickOpacity": {"condition": {"test": "datum.value % 20 == 0", "value": 1}, "value": 0}}},
        "y": {"field": "lower", "type": "quantitative", "scale": {"domain": [-0.06, 1.255], "nice": false, "zero": false}, "axis": {"values": [0,0.125,0.25,0.375,0.5,0.625,0.75,0.875,1,1.125,1.25], "labelExpr": "(datum.value*4) % 1 == 0 ? format(datum.value, '.2f') : ''", "gridWidth": {"condition": {"test": "(datum.value*4) % 1 == 0", "value": 1.1}, "value": 0.55}, "tickOpacity": {"condition": {"test": "(datum.value*4) % 1 == 0", "value": 1}, "value": 0}}},
        "y2": {"field": "upper"}}},
      {"data": {"name": "mean"}, "mark": {"type": "line", "strokeWidth": 1.1}, "encoding": {
        "x": {"field": "x", "type": "quantitative", "scale": {"domain": [-4.1, 87.2], "nice": false, "zero": false}},
        "y": {"field": "mean", "type": "quantitative", "scale": {"domain": [-0.06, 1.255], "nice": false, "zero": false}},
        "color": {"datum": "Random removal (mean and 95% CI)", "type": "nominal"},
        "strokeDash": {"datum": "Random removal (mean and 95% CI)", "type": "nominal"}}},
      {"data": {"name": "methods"}, "transform": [{"filter": "datum.network == 'Selling'"}], "mark": {"type": "line", "strokeWidth": 1.1}, "encoding": {
        "x": {"field": "x", "type": "quantitative", "scale": {"domain": [-4.1, 87.2], "nice": false, "zero": false}},
        "y": {"field": "r", "type": "quantitative", "scale": {"domain": [-0.06, 1.255], "nice": false, "zero": false}},
        "color": {"field": "method", "type": "nominal"},
        "strokeDash": {"field": "method", "type": "nominal"}}},
      {"data": {"name": "threshold"}, "mark": {"type": "rule", "color": "#CC00CC", "strokeWidth": 2.5, "strokeDash": [10,6,3,6]}, "encoding": {
        "y": {"field": "ref", "type": "quantitative", "scale": {"domain": [-0.06, 1.255], "nice": false, "zero": false}}}}
    ]}
  ], "spacing": 49,
  "title": {"text": "Number of villages removed", "orient": "bottom", "anchor": "middle", "frame": "bounds", "fontSize": 21, "fontWeight": "bold", "offset": 33, "dx": 17}}
],
"spacing": 46
}
